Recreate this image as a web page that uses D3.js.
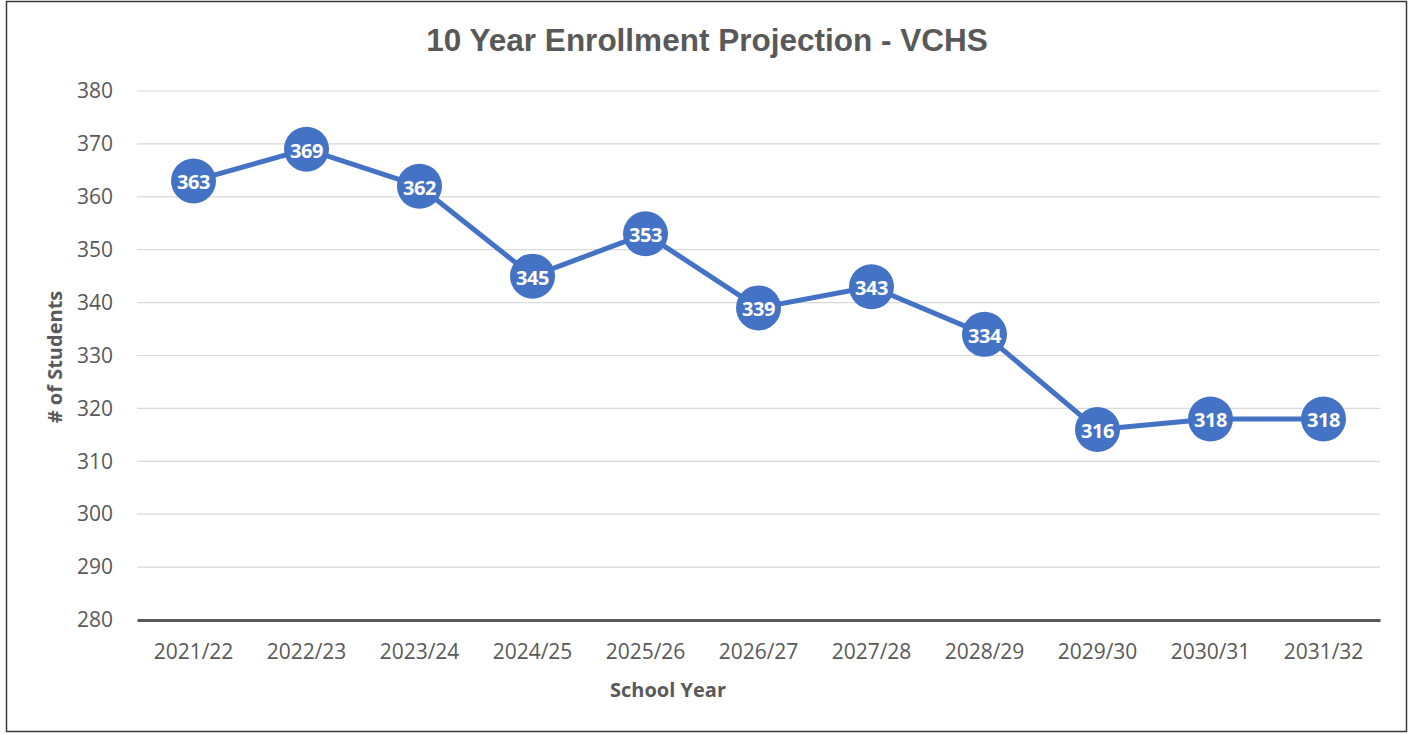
<!DOCTYPE html>
<html><head><meta charset="utf-8">
<script src="https://cdn.jsdelivr.net/npm/d3@7"></script>
<style>body{margin:0;background:#fff;}svg{display:block;}</style>
</head><body>
<script>
const categories = ["2021/22","2022/23","2023/24","2024/25","2025/26","2026/27","2027/28","2028/29","2029/30","2030/31","2031/32"];
const values = [363,369,362,345,353,339,343,334,316,318,318];
const yTicks = [280,290,300,310,320,330,340,350,360,370,380];

(function(){
const W = 1414, H = 734;
const svg = d3.select("body").append("svg").attr("width", W).attr("height", H);
svg.append("rect").attr("x",6.5).attr("y",1.5).attr("width",1400).attr("height",730)
  .attr("fill","#fff").attr("stroke","#3a3a3a").attr("stroke-width",1.5);

const font = "'Open Sans', 'Liberation Sans', sans-serif";
const pLeft = 137, pRight = 1380, pTop = 91, pBottom = 620;
const x = d3.scaleBand().domain(categories).range([pLeft, pRight]);
const y = d3.scaleLinear().domain([280, 380]).range([pBottom, pTop]);

// gridlines
svg.append("g").selectAll("line").data(yTicks.filter(d => d !== 280)).join("line")
  .attr("x1", pLeft).attr("x2", pRight).attr("y1", d => y(d)).attr("y2", d => y(d))
  .attr("stroke", "#d9d9d9").attr("stroke-width", 1.2);

// y axis labels
const yAxis = svg.append("g").attr("transform", `translate(${pLeft},0)`)
  .call(d3.axisLeft(y).tickValues(yTicks).tickSize(0).tickPadding(24));
yAxis.select(".domain").remove();
yAxis.selectAll("text").attr("font-family", font).attr("font-size", 21).attr("fill", "#595959");

// x axis
const xAxis = svg.append("g").attr("transform", `translate(0,${pBottom})`)
  .call(d3.axisBottom(x).tickSize(0).tickPadding(24));
xAxis.select(".domain").attr("stroke", "#595959").attr("stroke-width", 3);
xAxis.selectAll("text").attr("font-family", font).attr("font-size", 21).attr("fill", "#595959");

// line
const cx = d => x(d) + x.bandwidth() / 2;
svg.append("path").datum(values)
  .attr("d", d3.line().x((d, i) => cx(categories[i])).y(d => y(d)))
  .attr("fill", "none").attr("stroke", "#4472C4").attr("stroke-width", 5).attr("stroke-linejoin", "round");

// markers
svg.append("g").selectAll("circle").data(values).join("circle")
  .attr("cx", (d, i) => cx(categories[i])).attr("cy", d => y(d)).attr("r", 22.5)
  .attr("fill", "#4472C4");

svg.append("g").selectAll("text").data(values).join("text")
  .attr("x", (d, i) => cx(categories[i])).attr("y", d => y(d) + 1)
  .attr("text-anchor", "middle").attr("dominant-baseline", "central")
  .attr("font-family", font).attr("font-weight", "bold").attr("font-size", 20)
  .attr("fill", "#fff").attr("letter-spacing", -0.4).text(d => d);

// title
svg.append("text").attr("x", 707).attr("y", 51).attr("text-anchor", "middle")
  .attr("font-family", "'Liberation Sans', Arial, sans-serif").attr("font-weight", "bold").attr("font-size", 31.5)
  .attr("fill", "#595959").text("10 Year Enrollment Projection - VCHS");

// axis titles
svg.append("text").attr("x", 668).attr("y", 697).attr("text-anchor", "middle")
  .attr("font-family", font).attr("font-weight", "bold").attr("font-size", 20)
  .attr("fill", "#595959").text("School Year");
svg.append("text").attr("transform", "translate(62,357) rotate(-90)").attr("text-anchor", "middle")
  .attr("font-family", font).attr("font-weight", "bold").attr("font-size", 20)
  .attr("fill", "#595959").text("# of Students");
})();
</script>
</body></html>
